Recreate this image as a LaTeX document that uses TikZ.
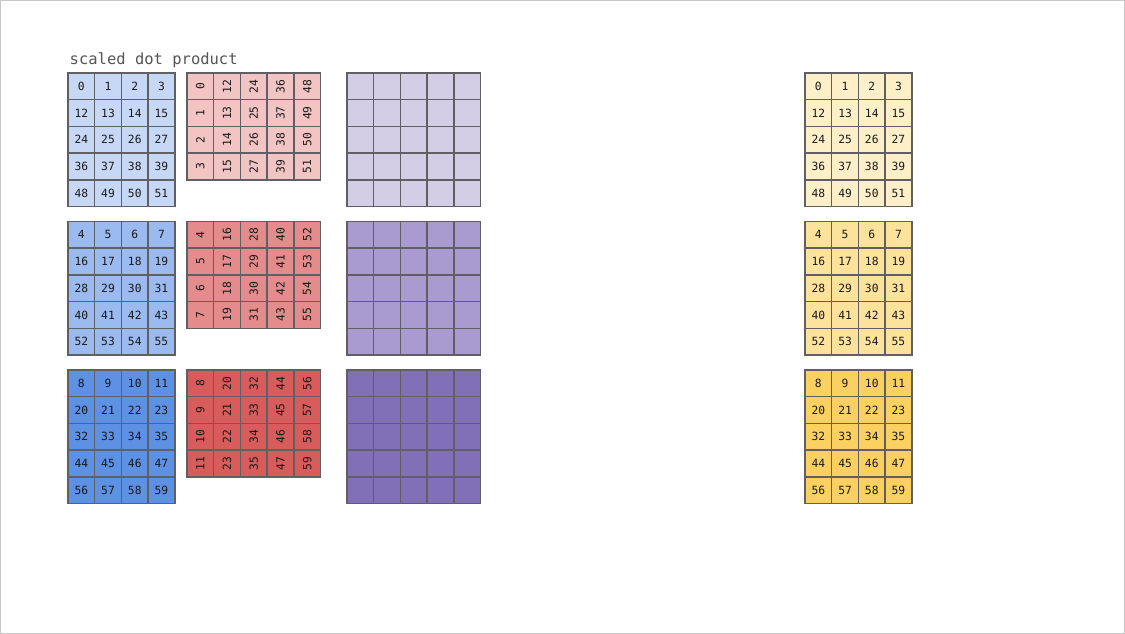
\documentclass[tikz,border=0pt]{standalone}
\usepackage{fontspec}
\setmonofont{DejaVu Sans Mono}
\usetikzlibrary{positioning}
\definecolor{gridgray}  {RGB}{96,96,100}
\definecolor{framegray} {RGB}{200,200,200}
\definecolor{titlegray} {RGB}{85,85,85}
\definecolor{qlight}    {RGB}{198,216,245}
\definecolor{qmid}      {RGB}{155,186,239}
\definecolor{qdark}     {RGB}{93,145,227}
\definecolor{klight}    {RGB}{242,196,196}
\definecolor{kmid}      {RGB}{228,140,140}
\definecolor{kdark}     {RGB}{216,92,92}
\definecolor{slight}    {RGB}{211,205,230}
\definecolor{smid}      {RGB}{169,155,208}
\definecolor{sdark}     {RGB}{128,112,184}
\definecolor{vlight}    {RGB}{253,239,200}
\definecolor{vmid}      {RGB}{253,226,156}
\definecolor{vdark}     {RGB}{250,208,96}

\begin{document}
\begin{tikzpicture}[
  x=1pt,y=-1pt,
  every node/.style={font=\ttfamily\fontsize{11.3}{13}\selectfont,text=black!90},
  cell/.style={draw=gridgray,line width=1.5pt,minimum width=26.7pt,
               minimum height=26.7pt,inner sep=0pt},
  ttl/.style={font=\ttfamily\fontsize{15.5}{18}\selectfont,text=titlegray,
              anchor=base west,inner sep=0pt},
]

%% ── Frame ────────────────────────────────────────────────────────────────
\useasboundingbox (0,0) rectangle (1125,634);
\draw[framegray,line width=1pt] (0.5,0.5) rectangle (1124.5,633.5);

%% ── Title ────────────────────────────────────────────────────────────────
\node[ttl] (title) at (69.5,65) {scaled dot product};

%% ── One row of matrices per head ─────────────────────────────────────────
\foreach \h/\top/\qc/\kc/\sc/\vc in {0/73/qlight/klight/slight/vlight,
                                      1/221.5/qmid/kmid/smid/vmid,
                                      2/370/qdark/kdark/sdark/vdark}{
  %% queries (5 x 4)
  \foreach \r in {0,...,4}
    \foreach \c in {0,...,3}{
      \pgfmathtruncatemacro\idx{12*\r+4*\h+\c}
      \node[cell,fill=\qc] (q\h-\r-\c)
        at ({68+(\c+0.5)*26.7},{\top+(\r+0.5)*26.7}) {\idx};
    }
  %% keys, transposed (4 x 5)
  \foreach \r in {0,...,3}
    \foreach \c in {0,...,4}{
      \pgfmathtruncatemacro\idx{12*\c+4*\h+\r}
      \node[cell,fill=\kc] (k\h-\r-\c)
        at ({187+(\c+0.5)*26.7},{\top+(\r+0.5)*26.7}) {\rotatebox{90}{\idx}};
    }
  %% scores (5 x 5)
  \foreach \r in {0,...,4}
    \foreach \c in {0,...,4}{
      \node[cell,fill=\sc] (s\h-\r-\c)
        at ({347+(\c+0.5)*26.7},{\top+(\r+0.5)*26.7}) {};
    }
  %% values (5 x 4)
  \foreach \r in {0,...,4}
    \foreach \c in {0,...,3}{
      \pgfmathtruncatemacro\idx{12*\r+4*\h+\c}
      \node[cell,fill=\vc] (v\h-\r-\c)
        at ({805+(\c+0.5)*26.7},{\top+(\r+0.5)*26.7}) {\idx};
    }
}

\end{tikzpicture}
\end{document}
